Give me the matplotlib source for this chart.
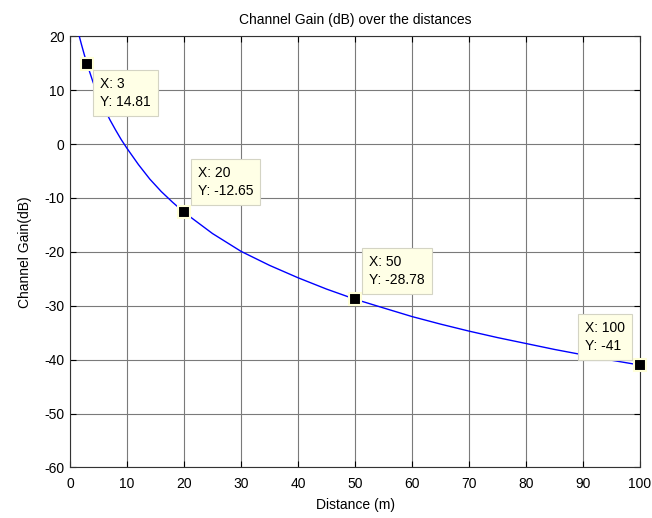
import matplotlib
matplotlib.use("Agg")
import matplotlib.pyplot as plt

# Data
distance = [1, 1.5, 2, 2.5, 3, 4, 5, 6, 7, 8, 9, 10, 12, 14, 16, 18, 20,
            25, 30, 35, 40, 45, 50, 55, 60, 65, 70, 75, 80, 85, 90, 95, 100]
gain_db = [23.0, 20.5, 18.5, 16.6, 14.81, 11.6, 8.9, 6.6, 4.5, 2.6, 0.8, -0.8,
           -3.8, -6.5, -8.8, -10.8, -12.65, -16.6, -19.9, -22.5, -24.8, -26.9,
           -28.78, -30.4, -32.0, -33.4, -34.7, -35.9, -37.0, -38.1, -39.1,
           -40.1, -41.0]

tip_x = [3, 20, 50, 100]
tip_y = [14.81, -12.65, -28.78, -41]
tip_labels = ["X: 3\nY: 14.81", "X: 20\nY: -12.65", "X: 50\nY: -28.78", "X: 100\nY: -41"]

xticks = list(range(0, 101, 10))
yticks = list(range(-60, 21, 10))

plt.rcParams['font.family'] = ['Liberation Sans', 'DejaVu Sans']
plt.rcParams['axes.unicode_minus'] = False

fig = plt.figure(figsize=(6.52, 5.18), dpi=100)
ax = fig.add_axes([0.1074, 0.0975, 0.9816 - 0.1074, 0.930 - 0.0975])

ax.plot(distance, gain_db, color='#0000ff', linewidth=1.0, zorder=3)

ax.set_xlim(0, 100)
ax.set_ylim(-60, 20)
ax.set_xticks(xticks)
ax.set_yticks(yticks)
ax.tick_params(direction='in', length=4, width=0.8, top=True, right=True,
               labelsize=10, pad=4, colors='black')
ax.tick_params(axis='x', pad=7)
ax.grid(True, color='#7a7a7a', linewidth=0.8, linestyle='-')
ax.set_axisbelow(True)
for s in ax.spines.values():
    s.set_linewidth(0.8)
    s.set_color('#333333')

ax.set_title("Channel Gain (dB) over the distances", fontsize=10, pad=9)
ax.set_xlabel("Distance (m)", fontsize=10, labelpad=5)
ax.set_ylabel("Channel Gain(dB)", fontsize=10, labelpad=9)

# data tips
ax.plot(tip_x, tip_y, linestyle='none', marker='s', markersize=8.5,
        markerfacecolor='black', markeredgecolor='#ffffd8',
        markeredgewidth=1.5, zorder=5, clip_on=False)

offsets = [((13, -13), 'left', 'top'),
           ((14, 14), 'left', 'bottom'),
           ((14, 12), 'left', 'bottom'),
           ((-15, 12), 'right', 'bottom')]
for x, y, lab, (off, ha, va) in zip(tip_x, tip_y, tip_labels, offsets):
    ax.annotate(lab, xy=(x, y), xytext=off, textcoords='offset pixels',
                ha=ha, va=va, multialignment='left', fontsize=10,
                linespacing=1.35, zorder=6,
                bbox=dict(boxstyle='square,pad=0.5', facecolor='#ffffe6',
                          edgecolor='#d4d4c4', linewidth=0.8))

fig.savefig("out.png", dpi=100)
